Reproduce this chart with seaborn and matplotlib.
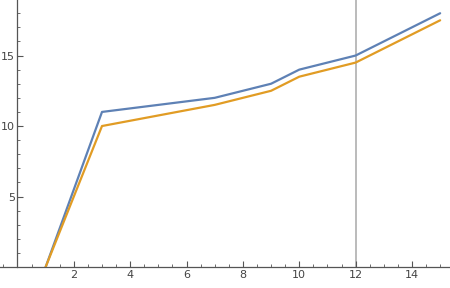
import matplotlib
matplotlib.use("Agg")
import matplotlib.pyplot as plt
from matplotlib.ticker import MultipleLocator
import seaborn as sns
import pandas as pd

x_vals = [1, 3, 7, 9, 10, 12, 15]
series_a = [0, 11, 12, 13, 14, 15, 18]
series_b = [0, 10, 11.5, 12.5, 13.5, 14.5, 17.5]
vline_x = 12

df = pd.concat([
    pd.DataFrame({"x": x_vals, "y": series_a, "s": "a"}),
    pd.DataFrame({"x": x_vals, "y": series_b, "s": "b"}),
])

sns.set_style("ticks")
plt.rcParams.update({"xtick.minor.visible": True, "ytick.minor.visible": True})
fig = plt.figure(figsize=(4.5, 2.88), dpi=100)
ax = fig.add_axes([0, 21/288, 1, 267/288])
sns.lineplot(data=df, x="x", y="y", hue="s", palette=["#5E81B5", "#E19C24"],
             ax=ax, legend=False, linewidth=1.6, sort=False)
ax.axvline(vline_x, color="#BBBBBB", lw=1.4, zorder=0)
ax.set_xlim(-0.62, 15.35)
ax.set_ylim(0, 18.94)
for s in ["top", "right"]:
    ax.spines[s].set_visible(False)
ax.spines["left"].set_position(("data", 0))
ax.spines["bottom"].set_position(("data", 0))
for s in ["left", "bottom"]:
    ax.spines[s].set_color("#555555")
    ax.spines[s].set_linewidth(0.9)
ax.set_xticks([2, 4, 6, 8, 10, 12, 14])
ax.set_yticks([5, 10, 15])
ax.xaxis.set_minor_locator(MultipleLocator(0.5))
ax.yaxis.set_minor_locator(MultipleLocator(1))
ax.tick_params(which="both", bottom=True, left=True, top=False, right=False)
ax.tick_params(which="major", direction="in", length=4.5, width=0.8, color="#555555",
               labelsize=8, labelcolor="#444444", pad=2)
ax.tick_params(which="minor", direction="in", length=2.5, width=0.6, color="#555555")
ax.set_xlabel("")
ax.set_ylabel("")
ax.patch.set_alpha(0)
fig.savefig("out.png", dpi=100)
